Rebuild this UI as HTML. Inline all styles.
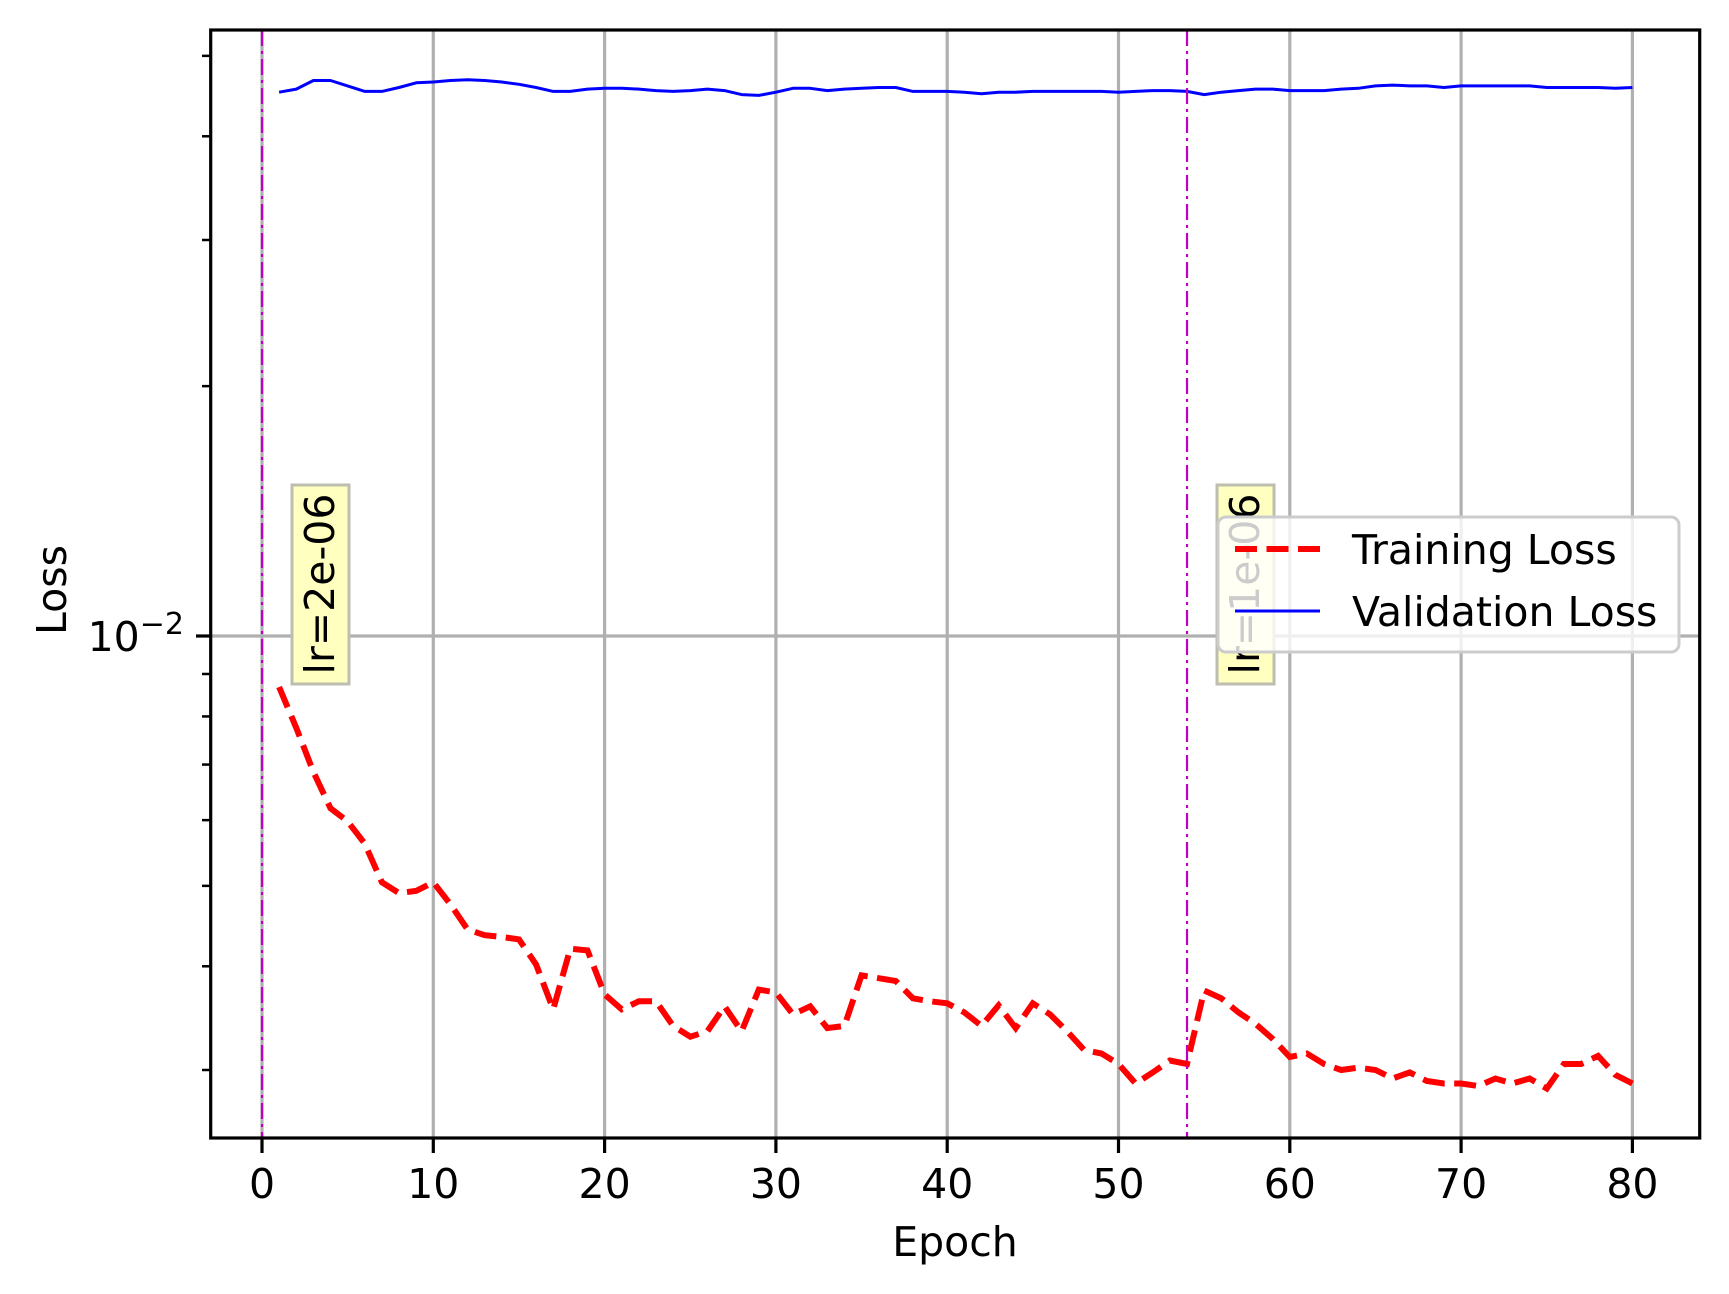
<!DOCTYPE html>
<html><head><meta charset="utf-8"><style>
html,body{margin:0;padding:0;background:#fff;}
svg{display:block;font-family:"DejaVu Sans","Liberation Sans",sans-serif;}
</style></head><body>
<svg id="chart" width="1729" height="1294" viewBox="0 0 1729 1294">
<rect x="0" y="0" width="1729" height="1294" fill="#fff"/>
<g id="grid"></g>
<g id="series"></g>
<g id="annots"></g>
<rect x="210.7" y="30" width="1489" height="1108" fill="none" stroke="#000" stroke-width="3.2"/>
<g id="axes"></g>
<text x="955" y="1256" font-size="41" text-anchor="middle">Epoch</text>
<text transform="translate(66,590) rotate(-90)" font-size="41" text-anchor="middle">Loss</text>
<g>
<rect x="1218" y="517" width="461" height="135" rx="8" fill="#fff" fill-opacity="0.8" stroke="#ccc" stroke-width="3"/>
<line x1="1235" y1="549" x2="1320" y2="549" stroke="#f00" stroke-width="6" stroke-dasharray="22,9.5"/>
<text x="1352" y="564" font-size="41">Training Loss</text>
<line x1="1235" y1="611" x2="1320" y2="611" stroke="#00f" stroke-width="3"/>
<text x="1352" y="626" font-size="41">Validation Loss</text>
</g>
</svg>
<script>
const epochs = [];
for (let i = 1; i <= 80; i++) epochs.push(i);
const trainLoss = [0.00868,0.00775,0.00686,0.00620,0.00598,0.00562,0.00505,0.00490,0.00493,0.00505,
0.00475,0.00443,0.00436,0.00434,0.00431,0.00402,0.00355,0.00420,0.00418,0.00370,
0.00355,0.00363,0.00363,0.00339,0.00329,0.00334,0.00358,0.00334,0.00375,0.00372,
0.00350,0.00358,0.00337,0.00339,0.00390,0.00387,0.00384,0.00366,0.00363,0.00361,
0.00352,0.00339,0.00359,0.00337,0.00361,0.00350,0.00334,0.00317,0.00314,0.00305,
0.00289,0.00298,0.00308,0.00305,0.00374,0.00366,0.00352,0.00341,0.00327,0.00311,
0.00314,0.00305,0.00300,0.00302,0.00300,0.00293,0.00298,0.00291,0.00289,0.00289,
0.00287,0.00293,0.00289,0.00293,0.00285,0.00305,0.00305,0.00312,0.00296,0.00289];
const valLoss = [0.0452,0.0456,0.0467,0.0467,0.0460,0.0453,0.0453,0.0458,0.0464,0.0465,
0.0467,0.0468,0.0467,0.0465,0.0462,0.0458,0.0453,0.0453,0.0456,0.0457,
0.0457,0.0456,0.0454,0.0453,0.0454,0.0456,0.0454,0.0449,0.0448,0.0452,
0.0457,0.0457,0.0454,0.0456,0.0457,0.0458,0.0458,0.0453,0.0453,0.0453,
0.0452,0.0450,0.0452,0.0452,0.0453,0.0453,0.0453,0.0453,0.0453,0.0452,
0.0453,0.0454,0.0454,0.0453,0.0449,0.0452,0.0454,0.0456,0.0456,0.0454,
0.0454,0.0454,0.0456,0.0457,0.0460,0.0461,0.0460,0.0460,0.0458,0.0460,
0.0460,0.0460,0.0460,0.0460,0.0458,0.0458,0.0458,0.0458,0.0457,0.0458];
const xTicks = [0,10,20,30,40,50,60,70,80];
const minorTicks = [0.003,0.004,0.005,0.006,0.007,0.008,0.009,0.02,0.03,0.04,0.05];
const lrEpochs = [0,54];
const lrLabels = ["lr=2e-06","lr=1e-06"];

const NS = "http://www.w3.org/2000/svg";
const X0 = 262, XS = 17.13, Y0 = 636, YS = 830;
function xScale(e){ return X0 + XS*e; }
function yScale(v){ return Y0 - YS*Math.log10(v/0.01); }
function mk(tag, attrs, parent){
  const el = document.createElementNS(NS, tag);
  for (const k in attrs) el.setAttribute(k, attrs[k]);
  parent.appendChild(el);
  return el;
}
const grid = document.getElementById('grid');
const axes = document.getElementById('axes');
const series = document.getElementById('series');
const annots = document.getElementById('annots');

xTicks.forEach(t => {
  const x = xScale(t);
  const g = mk('line', {x1:x, y1:30, x2:x, y2:1138, stroke:'#b0b0b0', 'stroke-width':3.2}, grid);
  
  
  const tk = mk('line', {x1:x, y1:1138, x2:x, y2:1153, stroke:'#000', 'stroke-width':3.2}, axes);
  
  
  const tl = mk('text', {x:x, y:1198, 'font-size':41, 'text-anchor':'middle'}, axes);
  tl.textContent = String(t);
  
  
});
const hg = mk('line', {x1:210.7, y1:yScale(0.01), x2:1699.7, y2:yScale(0.01), stroke:'#b0b0b0', 'stroke-width':3.2}, grid);


const mt = mk('line', {x1:196, y1:yScale(0.01), x2:210.7, y2:yScale(0.01), stroke:'#000', 'stroke-width':3.2}, axes);


const yl = mk('text', {x:184, y:yScale(0.01)+15, 'font-size':41, 'text-anchor':'end'}, axes);


yl.innerHTML = '10<tspan dy="-17" font-size="30">−2</tspan>';
minorTicks.forEach(v => {
  const y = yScale(v);
  const m = mk('line', {x1:202, y1:y, x2:210.7, y2:y, stroke:'#000', 'stroke-width':2.5}, axes);
  
  
});

lrEpochs.forEach((e, i) => {
  const x = xScale(e);
  const l = mk('line', {x1:x, y1:30, x2:x, y2:1138, stroke:'#c000c0', 'stroke-width':2.2, 'stroke-dasharray':'16,5,3,5'}, annots);
  
  
  const bx = x + 30;
  const b = mk('rect', {x:bx, y:485, width:57, height:199, fill:'#ffffc0', stroke:'#bdbdb0', 'stroke-width':3}, annots);
  
  
  const t = mk('text', {transform:'translate(' + (bx+42) + ',584) rotate(-90)', 'font-size':41, 'text-anchor':'middle'}, annots);
  t.textContent = lrLabels[i];
  
  
});

function path(vals){
  return vals.map((v,i) => (i ? 'L' : 'M') + xScale(epochs[i]).toFixed(1) + ',' + yScale(v).toFixed(1)).join(' ');
}
const vp = mk('path', {d:path(valLoss), fill:'none', stroke:'#00f', 'stroke-width':3, 'stroke-linejoin':'round'}, series);


const tp = mk('path', {d:path(trainLoss), fill:'none', stroke:'#f00', 'stroke-width':6, 'stroke-dasharray':'22,9.5'}, series);


</script>
</body></html>
